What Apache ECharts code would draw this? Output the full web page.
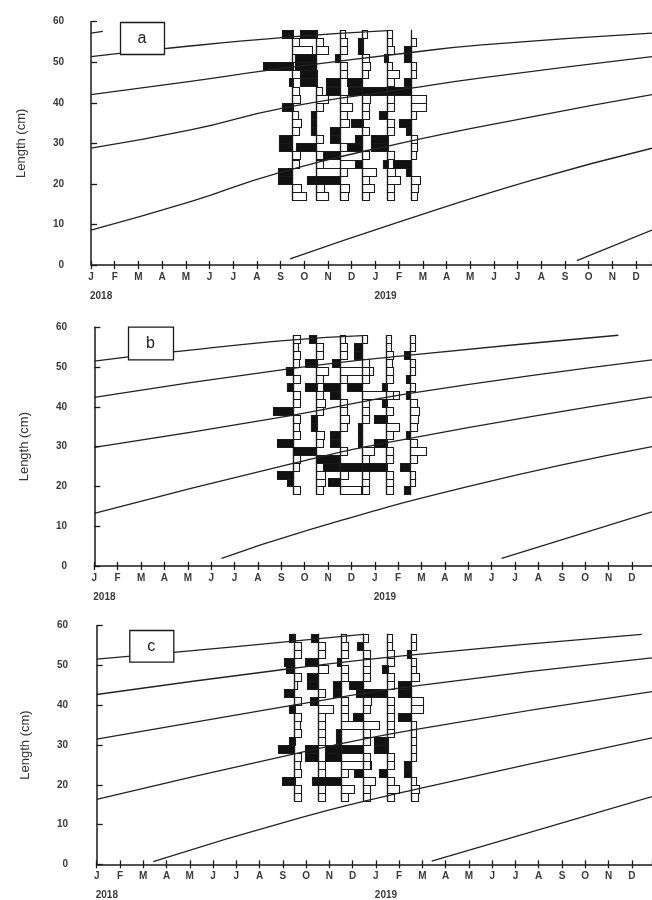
<!DOCTYPE html>
<html><head><meta charset="utf-8">
<script src="https://cdn.jsdelivr.net/npm/echarts/dist/echarts.min.js"></script>
<style>html,body{margin:0;padding:0;background:#fff}#c{width:652px;height:900px}</style>
</head><body><div id="c"></div>
<script>
// ---------- data ----------
const monthLetters = ['J','F','M','A','M','J','J','A','S','O','N','D'];
const yearLabels = ['2018', '2019'];
const panelTags = ['a', 'b', 'c'];
// lower limits of 2-cm length classes
const classLow = [16,18,20,22,24,26,28,30,32,34,36,38,40,42,44,46,48,50,52,54,56];
const classWidth = 2;
// sampling dates, months since Jan 2018
const sampleMonths = [8.5, 9.5, 10.5, 11.45, 12.5, 13.5];
// restructured frequencies (positive = black, negative = white), per sample, classes from 16 upward
const histA1 = [-0.6,-0.4,0.6,0.6,-0.3,-0.35,0.55,0.55,-0.3,-0.4,-0.25,0.45,-0.35,-0.3,0.15,-0.4,1.25,-0.3,-0.85,-0.3,0.45];
const histA2 = [-0.5,-0.35,-0.3,-1.0,-0.3,-0.4,0.85,-0.3,0.2,0.2,0.2,-0.3,-0.5,-0.25,0.7,0.7,0.9,0.9,-0.5,-0.3,0.7];
const histA3 = [-0.35,-0.4,1.4,-0.3,-0.7,0.7,-0.3,0.4,0.4,-0.4,-0.3,-0.5,-0.3,0.6,0.6,-0.3,-0.3,0.2,-0.3,-0.3,-0.2];
const histA4 = [-0.3,-0.5,-0.3,-0.6,0.3,-0.3,0.65,0.3,-0.3,0.5,-0.3,-0.3,-0.35,0.6,0.65,-0.25,-0.35,-0.3,0.2,0.2,-0.2];
const histA5 = [-0.3,-0.3,-0.55,-0.35,0.2,-0.3,0.7,0.7,-0.3,-0.3,0.35,-0.3,-0.3,1.05,-0.3,-0.5,-0.2,0.15,-0.3,-0.2,-0.2];
const histA6 = [-0.25,-0.3,-0.4,0.2,0.75,-0.2,-0.25,-0.25,0.2,0.5,-0.2,-0.65,-0.65,1.05,0.3,-0.2,-0.2,0.3,0.3,-0.2,0];

const histB1 = [0,-0.3,0.25,0.7,-0.25,-0.3,-0.2,0.7,-0.3,-0.25,-0.3,0.85,-0.3,-0.3,0.25,-0.3,0.3,-0.25,-0.3,-0.2,-0.3];
const histB2 = [0,-0.3,-0.4,-0.4,-0.4,-0.3,1.0,-0.3,-0.35,0.25,0.25,-0.3,-0.4,-0.3,0.5,-0.3,-0.5,0.5,-0.3,-0.3,0.3];
const histB3 = [0,-0.9,0.5,-0.35,0.7,1.0,-0.3,0.4,0.4,-0.3,-0.4,-0.3,-0.3,0.4,0.7,-0.3,-1.4,0.35,-0.3,-0.3,-0.2];
const histB4 = [0,-0.3,-0.3,-0.3,0.95,-0.3,-0.5,0.15,0.15,0.15,-0.3,-0.3,-0.3,-1.6,0.65,-0.3,-0.3,-0.3,0.35,0.35,-0.2];
const histB5 = [0,-0.3,-0.3,-0.3,1.05,-0.3,-0.3,0.55,-0.3,-0.55,0.55,-0.3,0.2,-0.3,0.2,-0.3,-0.3,-0.25,-0.3,-0.2,-0.2];
const histB6 = [0,0.25,-0.2,-0.2,0.4,-0.3,-0.7,-0.3,0.15,-0.3,-0.35,-0.4,-0.3,0.15,-0.2,0.15,-0.2,-0.2,0.25,-0.2,-0.2];

const histC1 = [-0.3,-0.3,0.55,-0.3,-0.25,-0.3,0.7,0.25,-0.3,-0.25,-0.3,0.25,-0.3,0.45,-0.15,-0.3,0.35,0.45,-0.3,-0.3,0.25];
const histC2 = [-0.3,-0.3,0.25,-0.3,-0.3,0.55,0.55,-0.3,-0.3,-0.3,-0.3,-0.65,0.35,-0.3,0.45,0.45,-0.45,0.55,-0.3,-0.3,0.3];
const histC3 = [-0.3,-0.55,1.0,-0.3,-1.3,0.7,0.7,0.2,0.2,-1.0,-0.3,-0.3,-0.3,0.35,0.35,-0.3,-0.3,0.15,-0.3,-0.3,-0.2];
const histC4 = [-0.3,-0.3,-0.5,0.4,-0.3,-0.3,0.9,-0.3,-0.3,-0.7,0.45,-0.3,-0.35,0.3,0.6,-0.3,-0.3,-0.3,-0.3,0.25,-0.2];
const histC5 = [-0.3,-0.5,-0.3,0.35,-0.3,-0.3,0.6,0.6,-0.3,-0.3,-0.3,-0.3,-0.3,1.0,-0.3,-0.3,0.25,-0.3,-0.3,-0.2,-0.2];
const histC6 = [-0.3,-0.35,-0.2,0.3,0.3,-0.2,-0.2,-0.2,-0.2,-0.2,0.55,-0.5,-0.5,0.55,0.55,-0.35,-0.2,-0.2,0.15,-0.2,-0.2];

// sample length range (cm) covered by each panel's histograms
const sampleRangeA = [16, 58];
const sampleRangeB = [18, 58];
const sampleRangeC = [16, 58];

// growth curves [month, length cm]
const curvesA = [
  [[0,57.2],[0.5,57.6]],
  [[0,51.4],[3,53.3],[8.3,56.2],[12.5,57.8]],
  [[0,42.0],[4.2,45.3],[7.6,48.1],[13.5,52.4],[16.5,54.3],[23.67,57.2]],
  [[0,28.8],[4.2,33.3],[8.1,38.7],[13.5,43.6],[16.4,46.1],[23.67,51.4]],
  [[0,8.6],[4.2,15.6],[7.85,22.6],[13.04,30.0],[18.65,36.6],[23.67,42.0]],
  [[8.4,1.5],[13.04,10.7],[18.65,21.0],[23.67,28.8]],
  [[20.5,1.1],[23.67,8.6]]
];
const curvesB = [
  [[0,51.5],[3.35,53.8],[8.37,56.8],[11.5,57.9]],
  [[0,42.4],[8.4,49.6],[13.5,53.0],[22.42,58.0]],
  [[0,29.8],[8.4,37.8],[13.5,43.4],[23.86,51.8]],
  [[0,13.2],[8.37,25.6],[13.5,32.1],[23.86,42.5]],
  [[5.45,1.9],[8.8,8.4],[15.93,19.9],[23.86,30.0]],
  [[17.43,1.9],[23.86,13.6]]
];
const curvesC = [
  [[0,51.6],[3.3,53.3],[8.45,56.1],[11.46,57.8]],
  [[0,42.7],[8.45,49.3],[13.47,52.6],[23.43,57.8]],
  [[0,31.5],[8.45,40.0],[13.47,44.7],[23.87,51.9]],
  [[0,16.3],[8.45,27.7],[13.61,33.8],[23.87,43.4]],
  [[2.43,0.7],[8.74,11.7],[13.61,18.7],[23.87,31.8]],
  [[14.4,0.8],[23.87,17.0]]
];

const histPanels = [
  [histA1,histA2,histA3,histA4,histA5,histA6],
  [histB1,histB2,histB3,histB4,histB5,histB6],
  [histC1,histC2,histC3,histC4,histC5,histC6]
];
const curvePanels = [curvesA, curvesB, curvesC];
const rangePanels = [sampleRangeA, sampleRangeB, sampleRangeC];

// ---------- layout ----------
const layouts = [
  {left:91,   top:21.7,  height:243.3, max:23.67, yOff:19,   box:[120,22,44,32]},
  {left:94.3, top:327.3, height:238.7, max:23.86, yOff:19.3, box:[128,326.7,45,32.6]},
  {left:96.7, top:625.7, height:238.6, max:23.87, yOff:20.7, box:[129.3,630,44,31.7]}
];
const INK = '#1a1a1a';
const LABEL = '#3a3a3a';
const FONT = '"Liberation Sans", Arial, sans-serif';

const grids = [], xAxes = [], yAxes = [], series = [];

function barItem(params, api) {
  const t = api.value(0), lo = api.value(1), v = api.value(2);
  const a = api.coord([t, lo + classWidth]);
  const b = api.coord([t - v, lo]);
  const x = Math.min(a[0], b[0]), w = Math.abs(b[0] - a[0]);
  const y = Math.min(a[1], b[1]), h = Math.abs(b[1] - a[1]);
  const black = v > 0;
  return {
    type: 'rect',
    shape: {x: Math.round(x) + 0.5, y: Math.round(y) + 0.5, width: Math.max(1, Math.round(w)), height: Math.round(h)},
    style: {fill: black ? '#111' : '#fff', stroke: INK, lineWidth: 1.1}
  };
}
function baseItem(params, api) {
  const t = api.value(0), lo = api.value(1), hi = api.value(2);
  const a = api.coord([t, lo]), b = api.coord([t, hi]);
  const x = Math.round(a[0]) + 0.5;
  return {type: 'line', shape: {x1: x, y1: a[1], x2: x, y2: b[1]}, style: {stroke: INK, lineWidth: 1.3}};
}

layouts.forEach((L, k) => {
  grids.push({left: L.left, top: L.top, height: L.height, right: 0, containLabel: false});
  const xBase = {
    type: 'value', gridIndex: k, min: 0, max: L.max, interval: 1, position: 'bottom', offset: 0,
    splitLine: {show: false}
  };
  xAxes.push(Object.assign({}, xBase, {
    axisLine: {show: true, lineStyle: {color: INK, width: 1.5}},
    axisTick: {show: true, length: 4, lineStyle: {color: INK, width: 1.3}},
    axisLabel: {
      show: true, margin: 7, color: LABEL, fontFamily: FONT, fontSize: 10, fontWeight: 'bold',
      formatter: v => (Number.isInteger(v) ? monthLetters[v % 12] : ''),
      showMaxLabel: false
    }
  }));
  xAxes.push(Object.assign({}, xBase, {
    axisLine: {show: false},
    axisTick: {show: true, inside: true, length: 4, lineStyle: {color: INK, width: 1.3}},
    axisLabel: {show: false}
  }));
  yAxes.push({
    type: 'value', gridIndex: k, min: 0, max: 60, interval: 10, offset: L.yOff,
    name: 'Length (cm)', nameLocation: 'middle', nameGap: 44,
    nameTextStyle: {color: '#333', fontFamily: FONT, fontSize: 13},
    axisLine: {show: true, lineStyle: {color: INK, width: 1.5}},
    axisTick: {show: true, inside: true, length: 6, lineStyle: {color: INK, width: 1.3}},
    axisLabel: {color: LABEL, fontFamily: FONT, fontSize: 10, fontWeight: 'bold', margin: 8},
    splitLine: {show: false}
  });

  const whites = [], blacks = [], bases = [];
  histPanels[k].forEach((h, i) => {
    bases.push([sampleMonths[i], rangePanels[k][0], rangePanels[k][1]]);
    h.forEach((v, j) => {
      if (v < 0) whites.push([sampleMonths[i], classLow[j], v]);
      else if (v > 0) blacks.push([sampleMonths[i], classLow[j], v]);
    });
  });
  series.push({type: 'custom', xAxisIndex: 2*k, yAxisIndex: k, renderItem: barItem, data: whites, z: 2, silent: true, clip: false});
  series.push({type: 'custom', xAxisIndex: 2*k, yAxisIndex: k, renderItem: barItem, data: blacks, z: 3, silent: true, clip: false});
  series.push({type: 'custom', xAxisIndex: 2*k, yAxisIndex: k, renderItem: baseItem, data: bases, z: 4, silent: true, clip: false});
  curvePanels[k].forEach(c => {
    series.push({
      type: 'line', xAxisIndex: 2*k, yAxisIndex: k, data: c, smooth: 0.5,
      symbol: 'none', lineStyle: {color: '#222', width: 1.3}, z: 5, silent: true, clip: true, animation: false
    });
  });
});

const chart = echarts.init(document.getElementById('c'), null, {renderer: 'canvas'});
chart.setOption({
  animation: false,
  backgroundColor: '#ffffff',
  grid: grids, xAxis: xAxes, yAxis: yAxes, series: series
});

// boxes with panel letters and year labels
const graphics = [];
layouts.forEach((L, k) => {
  const [bx, by, bw, bh] = L.box;
  graphics.push({
    type: 'rect', z: 100, shape: {x: bx + 0.5, y: by + 0.5, width: bw, height: bh},
    style: {fill: '#fff', stroke: INK, lineWidth: 1.3}
  });
  graphics.push({
    type: 'text', z: 101, x: bx + bw / 2, y: by + bh / 2 + 1,
    style: {text: panelTags[k], fill: '#222', font: '16px ' + FONT, textAlign: 'center', textVerticalAlign: 'middle'}
  });
  yearLabels.forEach((yl, i) => {
    const p = chart.convertToPixel({gridIndex: k}, [12 * i, 0]);
    graphics.push({
      type: 'text', z: 101, x: p[0] - 1, y: p[1] + 31,
      style: {text: yl, fill: LABEL, font: 'bold 10px ' + FONT, textAlign: 'left', textVerticalAlign: 'middle'}
    });
  });
});
chart.setOption({graphic: graphics});
</script>
</body></html>
